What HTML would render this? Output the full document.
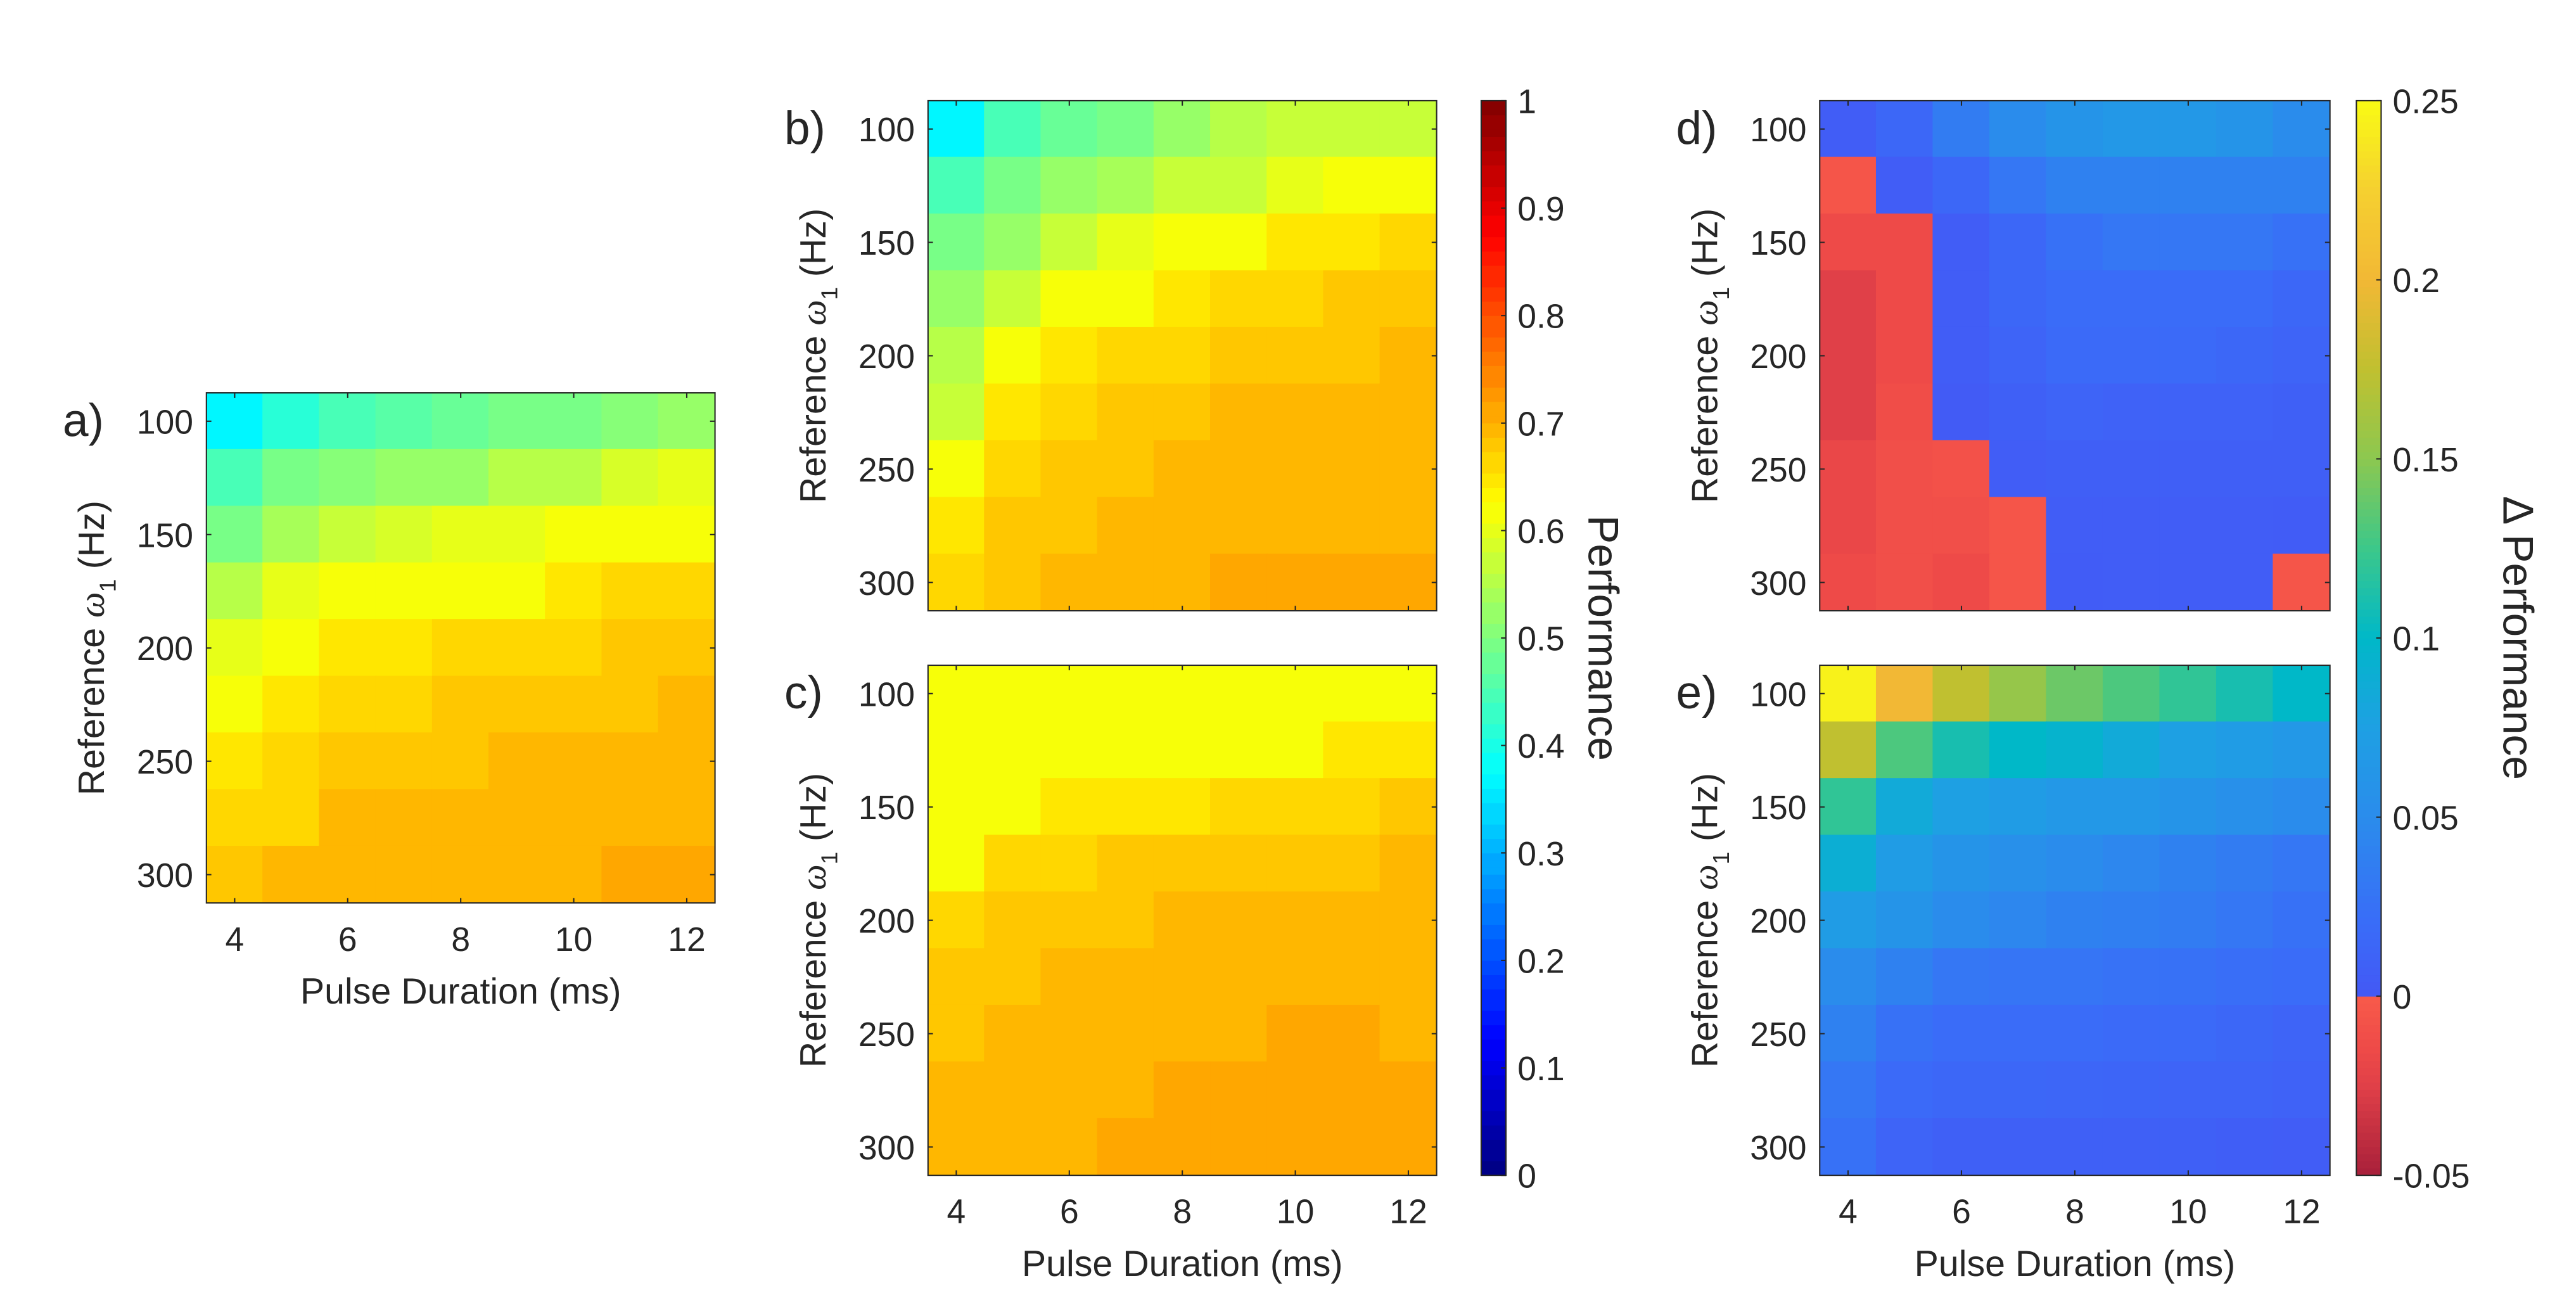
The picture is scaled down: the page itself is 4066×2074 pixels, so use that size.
<!DOCTYPE html>
<html><head><meta charset="utf-8"><style>
html,body{margin:0;padding:0;background:#fff;}
svg{display:block;}
text{font-family:"Liberation Sans",sans-serif;fill:#262626;}
</style></head><body>
<svg id="fig" width="4066" height="2074" viewBox="0 0 1560 796" preserveAspectRatio="none" xmlns="http://www.w3.org/2000/svg"></svg>
<script>
const pulseDurations=[4,5,6,7,8,9,10,11,12];
const refFreqs=[100,125,150,175,200,225,250,275,300];
const xTickLabels=[4,6,8,10,12];
const yTickLabels=[100,150,200,250,300];
const perfTicks=[0,0.1,0.2,0.3,0.4,0.5,0.6,0.7,0.8,0.9,1];
const deltaTicks=[-0.05,0,0.05,0.1,0.15,0.2,0.25];
const perfA=[
[.375,.41,.44,.46,.475,.49,.5,.515,.53],
[.44,.485,.515,.53,.53,.55,.55,.58,.595],
[.5,.54,.565,.58,.595,.595,.61,.625,.625],
[.55,.595,.61,.625,.625,.625,.642,.658,.658],
[.595,.625,.642,.642,.658,.658,.658,.675,.675],
[.625,.642,.658,.658,.675,.675,.675,.675,.6925],
[.642,.658,.675,.675,.675,.6925,.6925,.6925,.6925],
[.658,.658,.6925,.6925,.6925,.6925,.6925,.6925,.6925],
[.675,.6925,.6925,.6925,.6925,.6925,.6925,.707,.707]];
const perfB=[
[.375,.44,.475,.5,.53,.55,.565,.575,.575],
[.44,.485,.53,.54,.565,.575,.595,.61,.625],
[.485,.53,.565,.595,.61,.625,.642,.642,.658],
[.53,.575,.61,.625,.642,.658,.658,.675,.675],
[.56,.61,.642,.658,.658,.675,.675,.675,.6925],
[.575,.642,.658,.675,.675,.6925,.6925,.6925,.6925],
[.625,.658,.675,.675,.6925,.6925,.6925,.6925,.6925],
[.642,.675,.675,.6925,.6925,.6925,.6925,.6925,.6925],
[.658,.675,.6925,.6925,.6925,.707,.707,.707,.707]];
const perfC=[
[.61,.61,.61,.61,.61,.61,.61,.61,.625],
[.61,.61,.61,.625,.625,.625,.625,.642,.642],
[.61,.625,.642,.642,.642,.658,.658,.658,.675],
[.625,.658,.658,.675,.675,.675,.675,.675,.6925],
[.658,.675,.675,.675,.6925,.6925,.6925,.6925,.6925],
[.675,.675,.6925,.6925,.6925,.6925,.6925,.6925,.6925],
[.675,.6925,.6925,.6925,.6925,.6925,.707,.707,.6925],
[.6925,.6925,.6925,.6925,.707,.707,.707,.707,.707],
[.6925,.6925,.6925,.707,.707,.707,.707,.707,.707]];
const deltaD=[
[.005,.015,.035,.05,.06,.065,.065,.06,.05],
[-.005,.005,.015,.03,.04,.04,.04,.04,.04],
[-.015,-.015,.005,.015,.025,.03,.03,.03,.025],
[-.025,-.015,.005,.015,.02,.02,.02,.02,.015],
[-.025,-.015,.005,.012,.018,.018,.018,.015,.012],
[-.025,-.012,.003,.008,.012,.01,.01,.01,.008],
[-.018,-.01,-.008,.005,.007,.007,.007,.007,.007],
[-.018,-.01,-.01,-.005,.005,.005,.005,.005,.004],
[-.015,-.01,-.015,-.005,.004,.005,.005,.005,-.005]];
const deltaE=[
[.245,.2,.175,.155,.14,.13,.12,.11,.1],
[.175,.13,.11,.1,.095,.085,.075,.07,.065],
[.12,.085,.075,.07,.065,.065,.06,.055,.05],
[.09,.07,.06,.055,.05,.045,.04,.035,.03],
[.07,.06,.05,.045,.04,.038,.035,.03,.025],
[.05,.04,.03,.028,.028,.026,.025,.022,.02],
[.04,.025,.02,.02,.02,.018,.018,.015,.012],
[.03,.018,.015,.015,.014,.013,.012,.012,.01],
[.025,.012,.008,.008,.008,.008,.008,.006,.005]];

const NS="http://www.w3.org/2000/svg";
const svg=document.getElementById('fig');
function mk(tag,attrs,parent){const e=document.createElementNS(NS,tag);for(const k in attrs)e.setAttribute(k,attrs[k]);(parent||svg).appendChild(e);return e;}
function hex(r,g,b){return 'rgb('+Math.round(r*255)+','+Math.round(g*255)+','+Math.round(b*255)+')';}
function jet(v){v=Math.max(0,Math.min(1,v));v=(Math.floor(v*64-1e-9)+0.5)/64;
 const c=x=>Math.max(0,Math.min(1,x));
 return hex(c(1.5-Math.abs(4*v-3)),c(1.5-Math.abs(4*v-2)),c(1.5-Math.abs(4*v-1)));}
const parAnch=[[0,[0x43,0x58,0xF5]],[0.02,[0x3A,0x6C,0xF8]],[0.05,[0x2A,0x8C,0xEC]],[0.075,[0x1E,0xA0,0xE3]],[0.1,[0x00,0xB8,0xC8]],[0.125,[0x3C,0xC8,0x8A]],[0.15,[0x8C,0xC8,0x50]],[0.175,[0xC0,0xC0,0x30]],[0.2,[0xF2,0xB8,0x35]],[0.225,[0xF5,0xD0,0x30]],[0.25,[0xF9,0xFB,0x14]]];
const redAnch=[[-0.05,[0xA8,0x20,0x3A]],[-0.025,[0xE0,0x40,0x48]],[-0.015,[0xEE,0x4A,0x48]],[0,[0xF8,0x5A,0x4A]]];
function interp(a,v){if(v<=a[0][0])return a[0][1];for(let i=1;i<a.length;i++){if(v<=a[i][0]){const t=(v-a[i-1][0])/(a[i][0]-a[i-1][0]);return a[i-1][1].map((c,j)=>c+(a[i][1][j]-c)*t);}}return a[a.length-1][1];}
function dmap(v){const c=v<0?interp(redAnch,v):interp(parAnch,v);return 'rgb('+c.map(Math.round).join(',')+')';}

function panel(name,letter,x0,y0,x1,y1,data,cmap,showX){
 const g=mk('g',{});
 
 
 const nC=pulseDurations.length,nR=refFreqs.length;
 const cw=(x1-x0)/nC,ch=(y1-y0)/nR;
 const xs=d=>x0+(d-pulseDurations[0]+0.5)*cw;
 const ys=f=>y0+((f-refFreqs[0])/(refFreqs[1]-refFreqs[0])+0.5)*ch;
 for(let r=0;r<nR;r++)for(let c=0;c<nC;c++){
  const cell=mk('rect',{x:xs(pulseDurations[c])-cw/2-0.3,y:ys(refFreqs[r])-ch/2-0.3,width:cw+0.6,height:ch+0.6,fill:cmap(data[r][c])},g);
  
  
 }
 const fr=mk('rect',{x:x0,y:y0,width:x1-x0,height:y1-y0,fill:'none',stroke:'#262626','stroke-width':0.8},g);
 
 
 xTickLabels.forEach(t=>{const x=xs(t);
  mk('line',{x1:x,x2:x,y1:y1,y2:y1-3,stroke:'#262626','stroke-width':0.8},g);
  mk('line',{x1:x,x2:x,y1:y0,y2:y0+3,stroke:'#262626','stroke-width':0.8},g);
  if(showX){
   const tl=mk('text',{x:x,y:y1+29,'font-size':20.5,'text-anchor':'middle'},g);tl.textContent=t;
   
   
  }
 });
 yTickLabels.forEach(t=>{const y=ys(t);
  mk('line',{x1:x0,x2:x0+3,y1:y,y2:y,stroke:'#262626','stroke-width':0.8},g);
  mk('line',{x1:x1,x2:x1-3,y1:y,y2:y,stroke:'#262626','stroke-width':0.8},g);
  const tl=mk('text',{x:x0-8,y:y+7.5,'font-size':20.5,'text-anchor':'end'},g);tl.textContent=t;
  
  
 });
 const cy=(y0+y1)/2;
 const yl=mk('text',{x:0,y:0,'font-size':22,'text-anchor':'middle',transform:'translate('+(x0-62)+','+cy+') rotate(-90)'},g);
 yl.innerHTML='Reference <tspan font-style="italic" font-family="Liberation Serif, serif">ω</tspan><tspan font-size="14" dy="7">1</tspan><tspan dy="-7"> (Hz)</tspan>';
 
 
 if(showX){const xl=mk('text',{x:(x0+x1)/2,y:y1+61,'font-size':22,'text-anchor':'middle'},g);xl.textContent='Pulse Duration (ms)';
  
  }
 const pl=mk('text',{x:x0-87,y:ys(refFreqs[0])+9,'font-size':28,'text-anchor':'start',fill:'#000'},g);pl.textContent=letter+')';
 
 
}
panel('a','a',125,238,433,547,perfA,jet,true);
panel('b','b',562,61,870,370,perfB,jet,false);
panel('c','c',562,403,870,712,perfC,jet,true);
panel('d','d',1102,61,1411,370,deltaD,dmap,false);
panel('e','e',1102,403,1411,712,deltaE,dmap,true);

function colorbar(name,x0,x1,y0,y1,vmin,vmax,cmap,ticks,fmt,label,lx){
 const g=mk('g',{});
 
 
 const N=150;const ys=v=>y1-(v-vmin)/(vmax-vmin)*(y1-y0);
 for(let i=0;i<N;i++){const v=vmin+(i+0.5)/N*(vmax-vmin);
  mk('rect',{x:x0,y:ys(vmin+(i+1)/N*(vmax-vmin))-0.2,width:x1-x0,height:(y1-y0)/N+0.4,fill:cmap(v)},g);}
 mk('rect',{x:x0,y:y0,width:x1-x0,height:y1-y0,fill:'none',stroke:'#262626','stroke-width':0.8},g);
 ticks.forEach(t=>{const y=ys(t);
  mk('line',{x1:x1,x2:x1-3,y1:y,y2:y,stroke:'#262626','stroke-width':0.8},g);
  const tl=mk('text',{x:x1+7,y:y+7.5,'font-size':20.5},g);tl.textContent=fmt(t);
  
  
 });
 const l=mk('text',{x:0,y:0,'font-size':26,'text-anchor':'middle',transform:'translate('+lx+','+(y0+y1)/2+') rotate(90)'},g);l.textContent=label;
 
 
}
colorbar('performance-colorbar',897,912,61,712,0,1,jet,perfTicks,t=>String(Math.round(t*10)/10),'Performance',962);
colorbar('delta-colorbar',1427,1442,61,712,-0.05,0.25,dmap,deltaTicks,t=>String(Math.round(t*100)/100),'Δ Performance',1516);
</script>
</body></html>
